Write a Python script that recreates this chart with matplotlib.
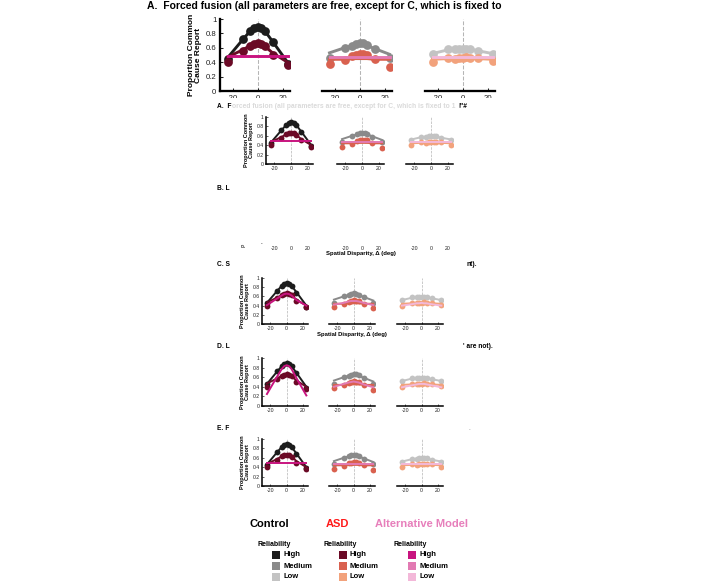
import matplotlib
matplotlib.use("Agg")
import matplotlib.pyplot as plt
from matplotlib.patches import Rectangle

plt.rcParams['font.family'] = ['Liberation Sans', 'DejaVu Sans']

W, H = 726, 588

disparity = [-24, -12, -6, -3, 0, 3, 6, 12, 24]
reliability = ["High", "Medium", "Low"]

# measured proportions (points)
ctrl_high = [0.45, 0.72, 0.83, 0.88, 0.89, 0.88, 0.83, 0.68, 0.38]
ctrl_med = [0.46, 0.60, 0.63, 0.65, 0.67, 0.66, 0.64, 0.58, 0.46]
ctrl_low = [0.52, 0.58, 0.58, 0.59, 0.59, 0.59, 0.59, 0.56, 0.52]
asd_high = [0.40, 0.56, 0.63, 0.65, 0.67, 0.65, 0.62, 0.50, 0.36]
asd_med = [0.37, 0.43, 0.48, 0.50, 0.52, 0.51, 0.50, 0.44, 0.34]
asd_low = [0.40, 0.46, 0.45, 0.46, 0.46, 0.47, 0.46, 0.46, 0.41]

# model fits (lines)
ctrl_fit_high = [0.46, 0.71, 0.83, 0.87, 0.89, 0.87, 0.83, 0.69, 0.40]
ctrl_fit_med = [0.53, 0.60, 0.63, 0.65, 0.66, 0.65, 0.63, 0.59, 0.51]
ctrl_fit_low = [0.52, 0.57, 0.58, 0.59, 0.59, 0.59, 0.58, 0.56, 0.52]
asd_fit_high = [0.47, 0.57, 0.63, 0.65, 0.66, 0.65, 0.62, 0.53, 0.40]
asd_fit_med = [0.44, 0.44, 0.45, 0.45, 0.45, 0.45, 0.45, 0.44, 0.44]
asd_fit_low = [0.44, 0.45, 0.45, 0.45, 0.45, 0.45, 0.45, 0.45, 0.44]

# alternative model fits, one set per panel
alt_a = [[0.49, 0.49, 0.49, 0.49, 0.49, 0.49, 0.49, 0.49, 0.49],
         [0.47, 0.47, 0.47, 0.47, 0.47, 0.47, 0.47, 0.47, 0.47],
         [0.47, 0.47, 0.47, 0.47, 0.47, 0.47, 0.47, 0.47, 0.47]]
alt_c = [[0.41, 0.55, 0.62, 0.65, 0.66, 0.65, 0.62, 0.52, 0.40],
         [0.42, 0.46, 0.49, 0.50, 0.50, 0.50, 0.49, 0.46, 0.41],
         [0.40, 0.43, 0.45, 0.45, 0.46, 0.45, 0.45, 0.43, 0.40]]
alt_d = [[0.25, 0.60, 0.77, 0.83, 0.85, 0.83, 0.77, 0.58, 0.22],
         [0.40, 0.46, 0.49, 0.50, 0.51, 0.50, 0.49, 0.45, 0.39],
         [0.39, 0.43, 0.45, 0.46, 0.46, 0.46, 0.45, 0.43, 0.39]]
alt_e = [[0.48, 0.48, 0.48, 0.48, 0.48, 0.48, 0.48, 0.48, 0.48],
         [0.47, 0.47, 0.47, 0.47, 0.47, 0.47, 0.47, 0.47, 0.47],
         [0.47, 0.47, 0.47, 0.47, 0.47, 0.47, 0.47, 0.47, 0.47]]

ctrl_pts = [ctrl_high, ctrl_med, ctrl_low]
asd_pts = [asd_high, asd_med, asd_low]
ctrl_fits = [ctrl_fit_high, ctrl_fit_med, ctrl_fit_low]
asd_fits = [asd_fit_high, asd_fit_med, asd_fit_low]

ctrl_colors = ["#1c1c1c", "#8a8a8a", "#c3c3c3"]
asd_colors = ["#6b0a26", "#d9614f", "#f2a27c"]
alt_colors = ["#c8147f", "#e27ab3", "#f3b8d9"]

fig = plt.figure(figsize=(W / 100, H / 100), dpi=100)


def px_axes(left, top, w, h, z):
    return fig.add_axes([left / W, 1 - (top + h) / H, w / W, h / H], zorder=z)


def px_text(x, y, s, **kw):
    kw.setdefault("va", "center")
    return fig.text(x / W, 1 - y / H, s, **kw)


def draw_row(lefts, top, w, h, alt=None, s=1.0, xlabel=False, z=2):
    for i in range(3):
        ax = px_axes(lefts[i], top, w, h, z)
        ax.set_xlim(-30, 26)
        ax.set_ylim(0, 1)
        ax.patch.set_alpha(0)
        empty = alt is None
        if not empty:
            ax.axvline(0, ls="--", color="#b5b5b5", lw=0.5 * s, zorder=0)
            ax.plot(disparity, ctrl_fits[i], color=ctrl_colors[i], lw=1.4 * s)
            ax.plot(disparity, ctrl_pts[i], "o", ms=4.2 * s, color=ctrl_colors[i], mec="none")
            ax.plot(disparity, asd_fits[i], color=asd_colors[i], lw=1.4 * s)
            ax.plot(disparity, asd_pts[i], "o", ms=4.2 * s, color=asd_colors[i], mec="none")
            ax.plot(disparity, alt[i], color=alt_colors[i], lw=1.4 * s)
        for side in ["top", "right"]:
            ax.spines[side].set_visible(False)
        ax.spines["left"].set_visible(i == 0 and not empty)
        ax.spines["bottom"].set_visible(not empty)
        for side in ["left", "bottom"]:
            ax.spines[side].set_linewidth(1.1 * s)
        ax.set_xticks([-20, 0, 20])
        ax.set_xticklabels(["-20", "0", "20"], fontsize=3.7 * s)
        if i == 0 and not empty:
            ax.set_yticks([0, 0.2, 0.4, 0.6, 0.8, 1])
            ax.set_yticklabels(["0", "0.2", "0.4", "0.6", "0.8", "1"], fontsize=3.7 * s)
            ax.set_ylabel("Proportion Common\nCause Report", fontsize=4.0 * s,
                          fontweight="bold", labelpad=1.5 * s, linespacing=1.0)
        else:
            ax.set_yticks([])
        ax.tick_params(direction="in", length=0 if empty else 1.5 * s,
                       width=0.5 * s, pad=1.8 * s, colors="#222222")
        if xlabel and i == 1:
            ax.set_xlabel("Spatial Disparity, \u0394 (deg)", fontsize=4.3 * s,
                          fontweight="bold", labelpad=0.5 * s)


# large copy at the top (only its upper part is visible)
px_text(147, 6, "A.  Forced fusion (all parameters are free, except for C, which is fixed to",
        fontsize=7.5, fontweight="bold")
draw_row([220, 322, 425], 19, 70, 72, alt_a, s=1.5, z=0)

# white sheet of the small figure covering the large one
fig.add_artist(Rectangle((0, 0), 1, 1 - 97.5 / H, transform=fig.transFigure,
                         facecolor="white", edgecolor="none", zorder=1))

# small copy
px_text(217, 107, "A.  F", fontsize=4.8, fontweight="bold", zorder=3)
px_text(232, 107, "orced fusion (all parameters are free, except for C, which is fixed to 1",
        fontsize=4.9, color="#dadada", fontweight="bold", zorder=3)
px_text(458, 107, '!"#', fontsize=4.8, fontweight="bold", zorder=3)
draw_row([266, 337, 406], 117, 47, 47, alt_a)

px_text(217, 189, "B. L", fontsize=4.8, fontweight="bold", zorder=3)
draw_row([266, 337, 406], 196, 47, 47, None, xlabel=True)
px_text(244, 245, "P", fontsize=3.5, fontweight="bold", rotation=90, ha="center", color="#444444", zorder=3)
px_text(261, 244, "-", fontsize=3.5, zorder=3)

px_text(217, 265, "C. S", fontsize=4.8, fontweight="bold", zorder=3)
px_text(466, 265, "nt).", fontsize=4.8, fontweight="bold", zorder=3)
draw_row([262, 329, 397], 278, 46, 46, alt_c, xlabel=True)

px_text(217, 347, "D. L", fontsize=4.8, fontweight="bold", zorder=3)
px_text(463, 347, "' are not).", fontsize=4.8, fontweight="bold", zorder=3)
draw_row([262, 329, 397], 358, 46, 48, alt_d)

px_text(217, 429, "E. F", fontsize=4.8, fontweight="bold", zorder=3)
px_text(469, 430, "-", fontsize=3.5, color="#888888", zorder=3)
draw_row([262, 329, 397], 439, 46, 47, alt_e)

# legend
groups = ["Control", "ASD", "Alternative Model"]
group_colors = ["#000000", "#ff1a1a", "#e77fbb"]
group_x = [249, 326, 375]
block_x = [257, 324, 393]
palettes = [ctrl_colors, asd_colors, alt_colors]
row_y = [555, 566, 577]
for g in range(3):
    px_text(group_x[g], 524, groups[g], fontsize=8.0, fontweight="bold",
            color=group_colors[g], zorder=3)
    px_text(block_x[g], 544, "Reliability", fontsize=5.0, fontweight="bold", zorder=3)
    for r in range(3):
        cx = block_x[g] + 19
        fig.add_artist(Rectangle(((cx - 4) / W, 1 - (row_y[r] + 4) / H), 8 / W, 8 / H,
                                 transform=fig.transFigure, facecolor=palettes[g][r],
                                 edgecolor="none", zorder=3))
        px_text(cx + 7, row_y[r], reliability[r], fontsize=5.5, fontweight="bold", zorder=3)

fig.savefig("out.png", dpi=100, facecolor="white")
